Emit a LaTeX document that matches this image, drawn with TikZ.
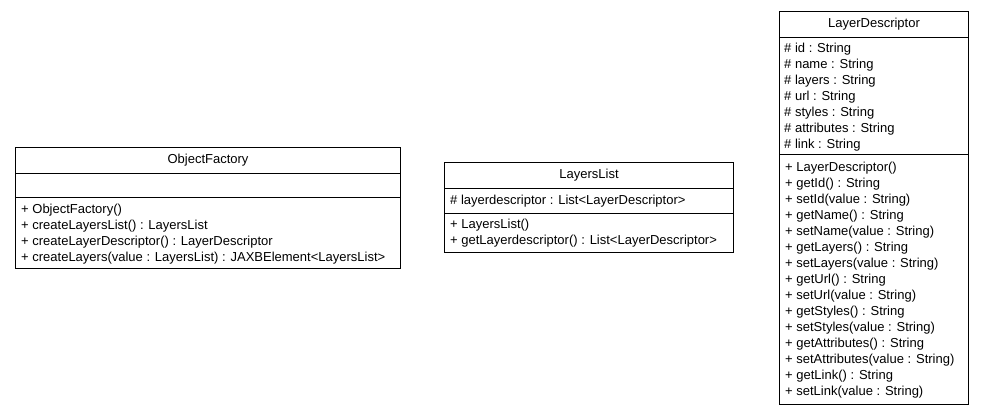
\documentclass[tikz,border=0pt]{standalone}
\usepackage{fontspec}
\setmainfont{Liberation Sans}
\begin{document}
\begin{tikzpicture}[x=1pt,y=1pt,
  comp/.style={draw=black, line width=1pt, rectangle, anchor=north west, inner sep=0pt},
  ttl/.style={inner sep=0pt, font=\fontsize{13}{16}\selectfont},
  txt/.style={inner sep=0pt, anchor=west, align=left, font=\fontsize{13}{16}\selectfont}]
\useasboundingbox (0,0) rectangle (984,-416);
% ObjectFactory
\node[comp, minimum width=385, minimum height=26] (oft) at (15,-147) {};
\node[comp, minimum width=385, minimum height=24] (ofa) at (15,-173) {};
\node[comp, minimum width=385, minimum height=71] (ofm) at (15,-197) {};
\node[ttl] (oftt) at (oft.center) {ObjectFactory};
\node[txt] (ofmt) at ([xshift=6pt,yshift=-1pt]ofm.west) {+ ObjectFactory()\\+ createLayersList() : LayersList\\+ createLayerDescriptor() : LayerDescriptor\\+ createLayers(value : LayersList) : JAXBElement<LayersList>};
% LayersList
\node[comp, minimum width=289, minimum height=26] (llt) at (444,-162) {};
\node[comp, minimum width=289, minimum height=25] (lla) at (444,-188) {};
\node[comp, minimum width=289, minimum height=39] (llm) at (444,-213) {};
\node[ttl] (lltt) at (llt.center) {LayersList};
\node[txt] (llat) at ([xshift=6pt]lla.west) {\# layerdescriptor : List<LayerDescriptor>};
\node[txt] (llmt) at ([xshift=6pt]llm.west) {+ LayersList()\\+ getLayerdescriptor() : List<LayerDescriptor>};
% LayerDescriptor
\node[comp, minimum width=189, minimum height=26] (ldt) at (779,-11) {};
\node[comp, minimum width=189, minimum height=117] (lda) at (779,-37) {};
\node[comp, minimum width=189, minimum height=250] (ldm) at (779,-154) {};
\node[ttl] (ldtt) at (ldt.center) {LayerDescriptor};
\node[txt] (ldat) at ([xshift=5pt,yshift=-1pt]lda.west) {\# id : String\\\# name : String\\\# layers : String\\\# url : String\\\# styles : String\\\# attributes : String\\\# link : String};
\node[txt] (ldmt) at ([xshift=6pt,yshift=-1pt]ldm.west) {+ LayerDescriptor()\\+ getId() : String\\+ setId(value : String)\\+ getName() : String\\+ setName(value : String)\\+ getLayers() : String\\+ setLayers(value : String)\\+ getUrl() : String\\+ setUrl(value : String)\\+ getStyles() : String\\+ setStyles(value : String)\\+ getAttributes() : String\\+ setAttributes(value : String)\\+ getLink() : String\\+ setLink(value : String)};
\end{tikzpicture}
\end{document}
